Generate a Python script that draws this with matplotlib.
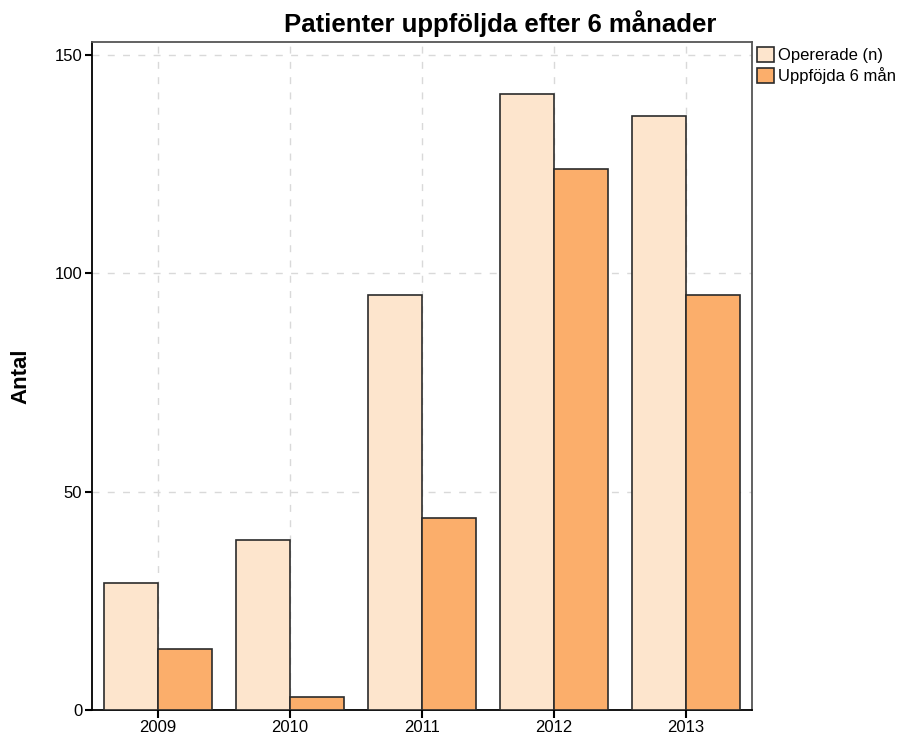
import numpy as np
import matplotlib.pyplot as plt

plt.rcParams['font.family'] = ['Liberation Sans', 'DejaVu Sans']

years = ['2009', '2010', '2011', '2012', '2013']
opererade = [29, 39, 95, 141, 136]
uppfoljda = [14, 3, 44, 124, 95]

light = '#FDE5CD'
dark = '#FBAE6B'
edge = '#2b2b2b'

fig = plt.figure(figsize=(9.02, 7.40), dpi=100)
ax = fig.add_axes([0.102, 0.0405, 0.7317, 0.9027])

x = np.arange(len(years))
w = 0.41
ax.bar(x - w / 2, opererade, width=w, color=light, edgecolor=edge, linewidth=1.2,
       label='Opererade (n)', zorder=3)
ax.bar(x + w / 2, uppfoljda, width=w, color=dark, edgecolor=edge, linewidth=1.2,
       label='Uppföjda 6 mån', zorder=3)

ax.set_xlim(-0.5, 4.5)
ax.set_ylim(0, 153)
ax.set_xticks(x)
ax.set_xticklabels(years, fontsize=12)
ax.set_yticks([0, 50, 100, 150])
ax.tick_params(axis='y', labelsize=12, length=5, width=1.5, direction='out', pad=2)
ax.tick_params(axis='x', length=6, width=1.5, direction='out', pad=1)

ax.grid(True, color='#d9d9d9', linestyle=(0, (5, 6)), linewidth=1, zorder=0)

for side in ['left', 'bottom']:
    ax.spines[side].set_color('black')
    ax.spines[side].set_linewidth(1.3)
for side in ['top', 'right']:
    ax.spines[side].set_color('#555555')
    ax.spines[side].set_linewidth(1.3)

ax.set_ylabel('Antal', fontsize=16, fontweight='bold')
ax.yaxis.set_label_coords(-0.092, 0.5)
fig.text(0.554, 0.968, 'Patienter uppföljda efter 6 månader', ha='center', va='center',
         fontsize=18.5, fontweight='bold')

ax.legend(loc='upper left', bbox_to_anchor=(1.0, 1.0), frameon=False, fontsize=12,
          handlelength=1.0, handleheight=1.0, handletextpad=0.25, labelspacing=0.25,
          borderaxespad=0.2, borderpad=0.1)

fig.savefig('out.png', dpi=100)
